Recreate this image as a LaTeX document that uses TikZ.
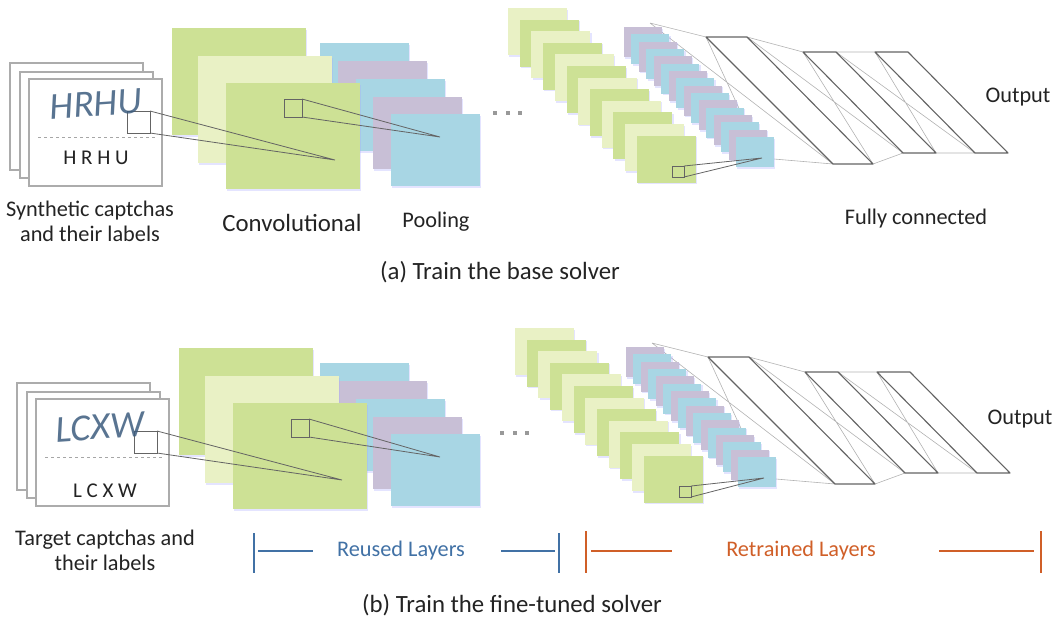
\documentclass[tikz,border=0pt]{standalone}
\usepackage{fontspec}
\setmainfont{Carlito}
\usetikzlibrary{shadows}

\definecolor{convgreen}{RGB}{205,225,149}
\definecolor{lightgreen}{RGB}{233,241,197}
\definecolor{poolblue}{RGB}{168,214,228}
\definecolor{poolpurple}{RGB}{200,191,214}
\definecolor{inkblue}{RGB}{60,92,126}
\definecolor{reusedblue}{RGB}{65,113,165}
\definecolor{retrainorange}{RGB}{208,95,40}
\definecolor{edgegray}{RGB}{100,100,100}
\definecolor{wiregray}{RGB}{178,178,178}
\definecolor{textblack}{RGB}{35,35,35}

% one solver: #1 prefix, #2 vertical offset, #3 shift of left part, #4 shift of right part
\newcommand{\solver}[4]{%
  \begin{scope}[shift={(0,#2)}]
    % captcha images
    \begin{scope}[shift={(#3,0)}]
      \path[captcha_card] (10,63) rectangle (143,170);
      \path[captcha_card] (20,72) rectangle (153,178);
      \path[captcha_card] (29,79) rectangle (162,186);
      \draw[dash_sep] (38,137) -- (155,137);
      \draw[patch] (127,111) rectangle (150,133);
      \coordinate (#1capTop) at (150,111);
      \coordinate (#1capBot) at (150,133);
    \end{scope}
    % pooling maps (behind the conv maps)
    \path[layer,fill=poolblue] (320,43) rectangle ++(89,72);
    \path[layer,fill=poolpurple] (338,61) rectangle ++(89,72);
    \path[layer,fill=poolblue] (356,79) rectangle ++(89,72);
    \path[layer,fill=poolpurple] (373,97) rectangle ++(89,72);
    \path[layer,fill=poolblue] (391,114) rectangle ++(89,72);
    \coordinate (#1poolHit) at (440,137);
    % conv maps
    \begin{scope}[shift={(#3,0)}]
      \path[layer,fill=convgreen] (172,28) rectangle ++(134,107);
      \path[layer,fill=lightgreen] (198,56) rectangle ++(134,107);
      \path[layer,fill=convgreen] (226,83) rectangle ++(134,106);
      \draw[patch] (284,99) rectangle (302,117);
      \coordinate (#1convTop) at (302,99);
      \coordinate (#1convBot) at (302,117);
      \coordinate (#1convHit) at (335,160);
      \foreach \x in {0,12.5,25}
        \fill[dotgray] (493+\x,111) rectangle ++(4,4);
    \end{scope}
    \draw[zoom_line] (#1capTop) -- (#1convHit) (#1capBot) -- (#1convHit);
    \draw[zoom_line] (#1convTop) -- (#1poolHit) (#1convBot) -- (#1poolHit);
    % fully connected part
    \begin{scope}[shift={(#4,0)}]
      \coordinate (#1stackTop) at (650,23);
      \coordinate (#1stackHit) at (762,158);
      \coordinate (#1fcA1) at (706,37);  \coordinate (#1fcA2) at (747,37);
      \coordinate (#1fcA3) at (873,164); \coordinate (#1fcA4) at (833,164);
      \coordinate (#1fcB1) at (803,52);  \coordinate (#1fcB2) at (836,52);
      \coordinate (#1fcB3) at (936,153); \coordinate (#1fcB4) at (903,153);
      \coordinate (#1fcC1) at (875,52);  \coordinate (#1fcC2) at (908,52);
      \coordinate (#1fcC3) at (1008,153); \coordinate (#1fcC4) at (975,153);
    \end{scope}
    \draw[wire] (#1stackTop) -- (#1fcA1) (#1stackTop) -- (#1fcA4)
      (#1stackHit) -- (#1fcA1) (#1stackHit) -- (#1fcA4);
    \draw[wire] (#1fcA2) -- (#1fcB1) (#1fcA2) -- (#1fcB4)
      (#1fcA3) -- (#1fcB1) (#1fcA3) -- (#1fcB4);
    \draw[wire] (#1fcB2) -- (#1fcC1) (#1fcB2) -- (#1fcC4)
      (#1fcB3) -- (#1fcC1) (#1fcB3) -- (#1fcC4);
    % deep conv maps
    \begin{scope}[shift={(#3,0)}]
      \foreach \i in {0,2,...,10} {
        \path[layer,fill=lightgreen] (508+11.7*\i,8+11.6*\i) rectangle ++(59,47);
        \path[layer,fill=convgreen] (519.7+11.7*\i,19.6+11.6*\i) rectangle ++(59,47);
      }
      \draw[patch] (672,166) rectangle (684,177);
      \coordinate (#1deepTop) at (684,166);
      \coordinate (#1deepBot) at (684,177);
    \end{scope}
    % deep pooling maps
    \begin{scope}[shift={(#4,0)}]
      \foreach \i in {0,2,...,14} {
        \path[layer,fill=poolpurple] (624+7.47*\i,27+7.33*\i) rectangle ++(38,30);
        \path[layer,fill=poolblue] (631.47+7.47*\i,34.33+7.33*\i) rectangle ++(38,30);
      }
    \end{scope}
    \draw[zoom_line] (#1deepTop) -- (#1stackHit) (#1deepBot) -- (#1stackHit);
    \draw[fc_layer] (#1fcA1) -- (#1fcA2) -- (#1fcA3) -- (#1fcA4) -- cycle;
    \draw[fc_layer] (#1fcB1) -- (#1fcB2) -- (#1fcB3) -- (#1fcB4) -- cycle;
    \draw[fc_layer] (#1fcC1) -- (#1fcC2) -- (#1fcC3) -- (#1fcC4) -- cycle;
  \end{scope}}

\begin{document}
\begin{tikzpicture}[x=1pt, y=-1pt,
    captcha_card/.style ={fill=white, draw=gray!65, line width=1.2pt},
    layer/.style ={drop shadow={shadow xshift=1.2pt, shadow yshift=-1.6pt,
      fill=blue!35, opacity=.3}},
    patch/.style ={draw=edgegray, line width=0.9pt},
    dash_sep/.style ={draw=gray!70, dashed, line width=0.9pt},
    zoom_line/.style ={draw=edgegray, line width=0.8pt},
    wire/.style ={draw=wiregray, line width=0.6pt},
    fc_layer/.style ={draw=edgegray, line width=1.1pt, line join=round},
    dotgray/.style ={fill=gray!80},
    hand/.style ={font=\fontsize{38}{38}\selectfont\itshape,
      text=inkblue, opacity=.85, rotate=4},
    tag_small/.style ={font=\fontsize{21}{22}\selectfont, text=textblack},
    label_text/.style ={font=\fontsize{22.3}{25}\selectfont, text=textblack,
      align=center},
    label_big/.style ={font=\fontsize{24.8}{28}\selectfont, text=textblack},
    tag_line/.style ={line width=1.2pt}]

    \useasboundingbox (0,0) rectangle (1056,619);

    % (a) base solver
    \solver{a}{0}{0}{0}
    \node[hand] (wordA) at (96,104) {HRHU};
    \node[tag_small] (tagA) at (96,158) {H R H U};
    \node[label_text] (synthLabel) at (90,221) {Synthetic captchas\\and their labels};
    \node[label_big] (convLabel) at (292,223) {Convolutional};
    \node[label_text] (poolLabel) at (436,222) {Pooling};
    \node[label_text] (fcLabel) at (916,219) {Fully connected};
    \node[label_text] (outA) at (1018,97) {Output};
    \node[label_big] (capA) at (500,272) {(a) Train the base solver};

    % (b) fine-tuned solver
    \solver{b}{320}{7}{2}
    \node[hand] (wordB) at (100,427) {LCXW};
    \node[tag_small] (tagB) at (105,491) {L C X W};
    \node[label_text] (targetLabel) at (105,550) {Target captchas and\\their labels};
    \node[label_text] (outB) at (1020,419) {Output};
    \node[label_big] (capB) at (512,605) {(b) Train the fine-tuned solver};

    % reused / retrained brackets
    \node[label_text, text=reusedblue] (reused) at (401,551) {Reused Layers};
    \draw[tag_line, reusedblue] (254,533) -- (254,573) (258,551) -- (313,551)
      (501,551) -- (555,551) (559,533) -- (559,573);
    \node[label_text, text=retrainorange] (retrained) at (801,551) {Retrained Layers};
    \draw[tag_line, retrainorange] (586,531) -- (586,573) (591,551) -- (672,551)
      (939,551) -- (1034,551) (1041,531) -- (1041,573);

\end{tikzpicture}
\end{document}
